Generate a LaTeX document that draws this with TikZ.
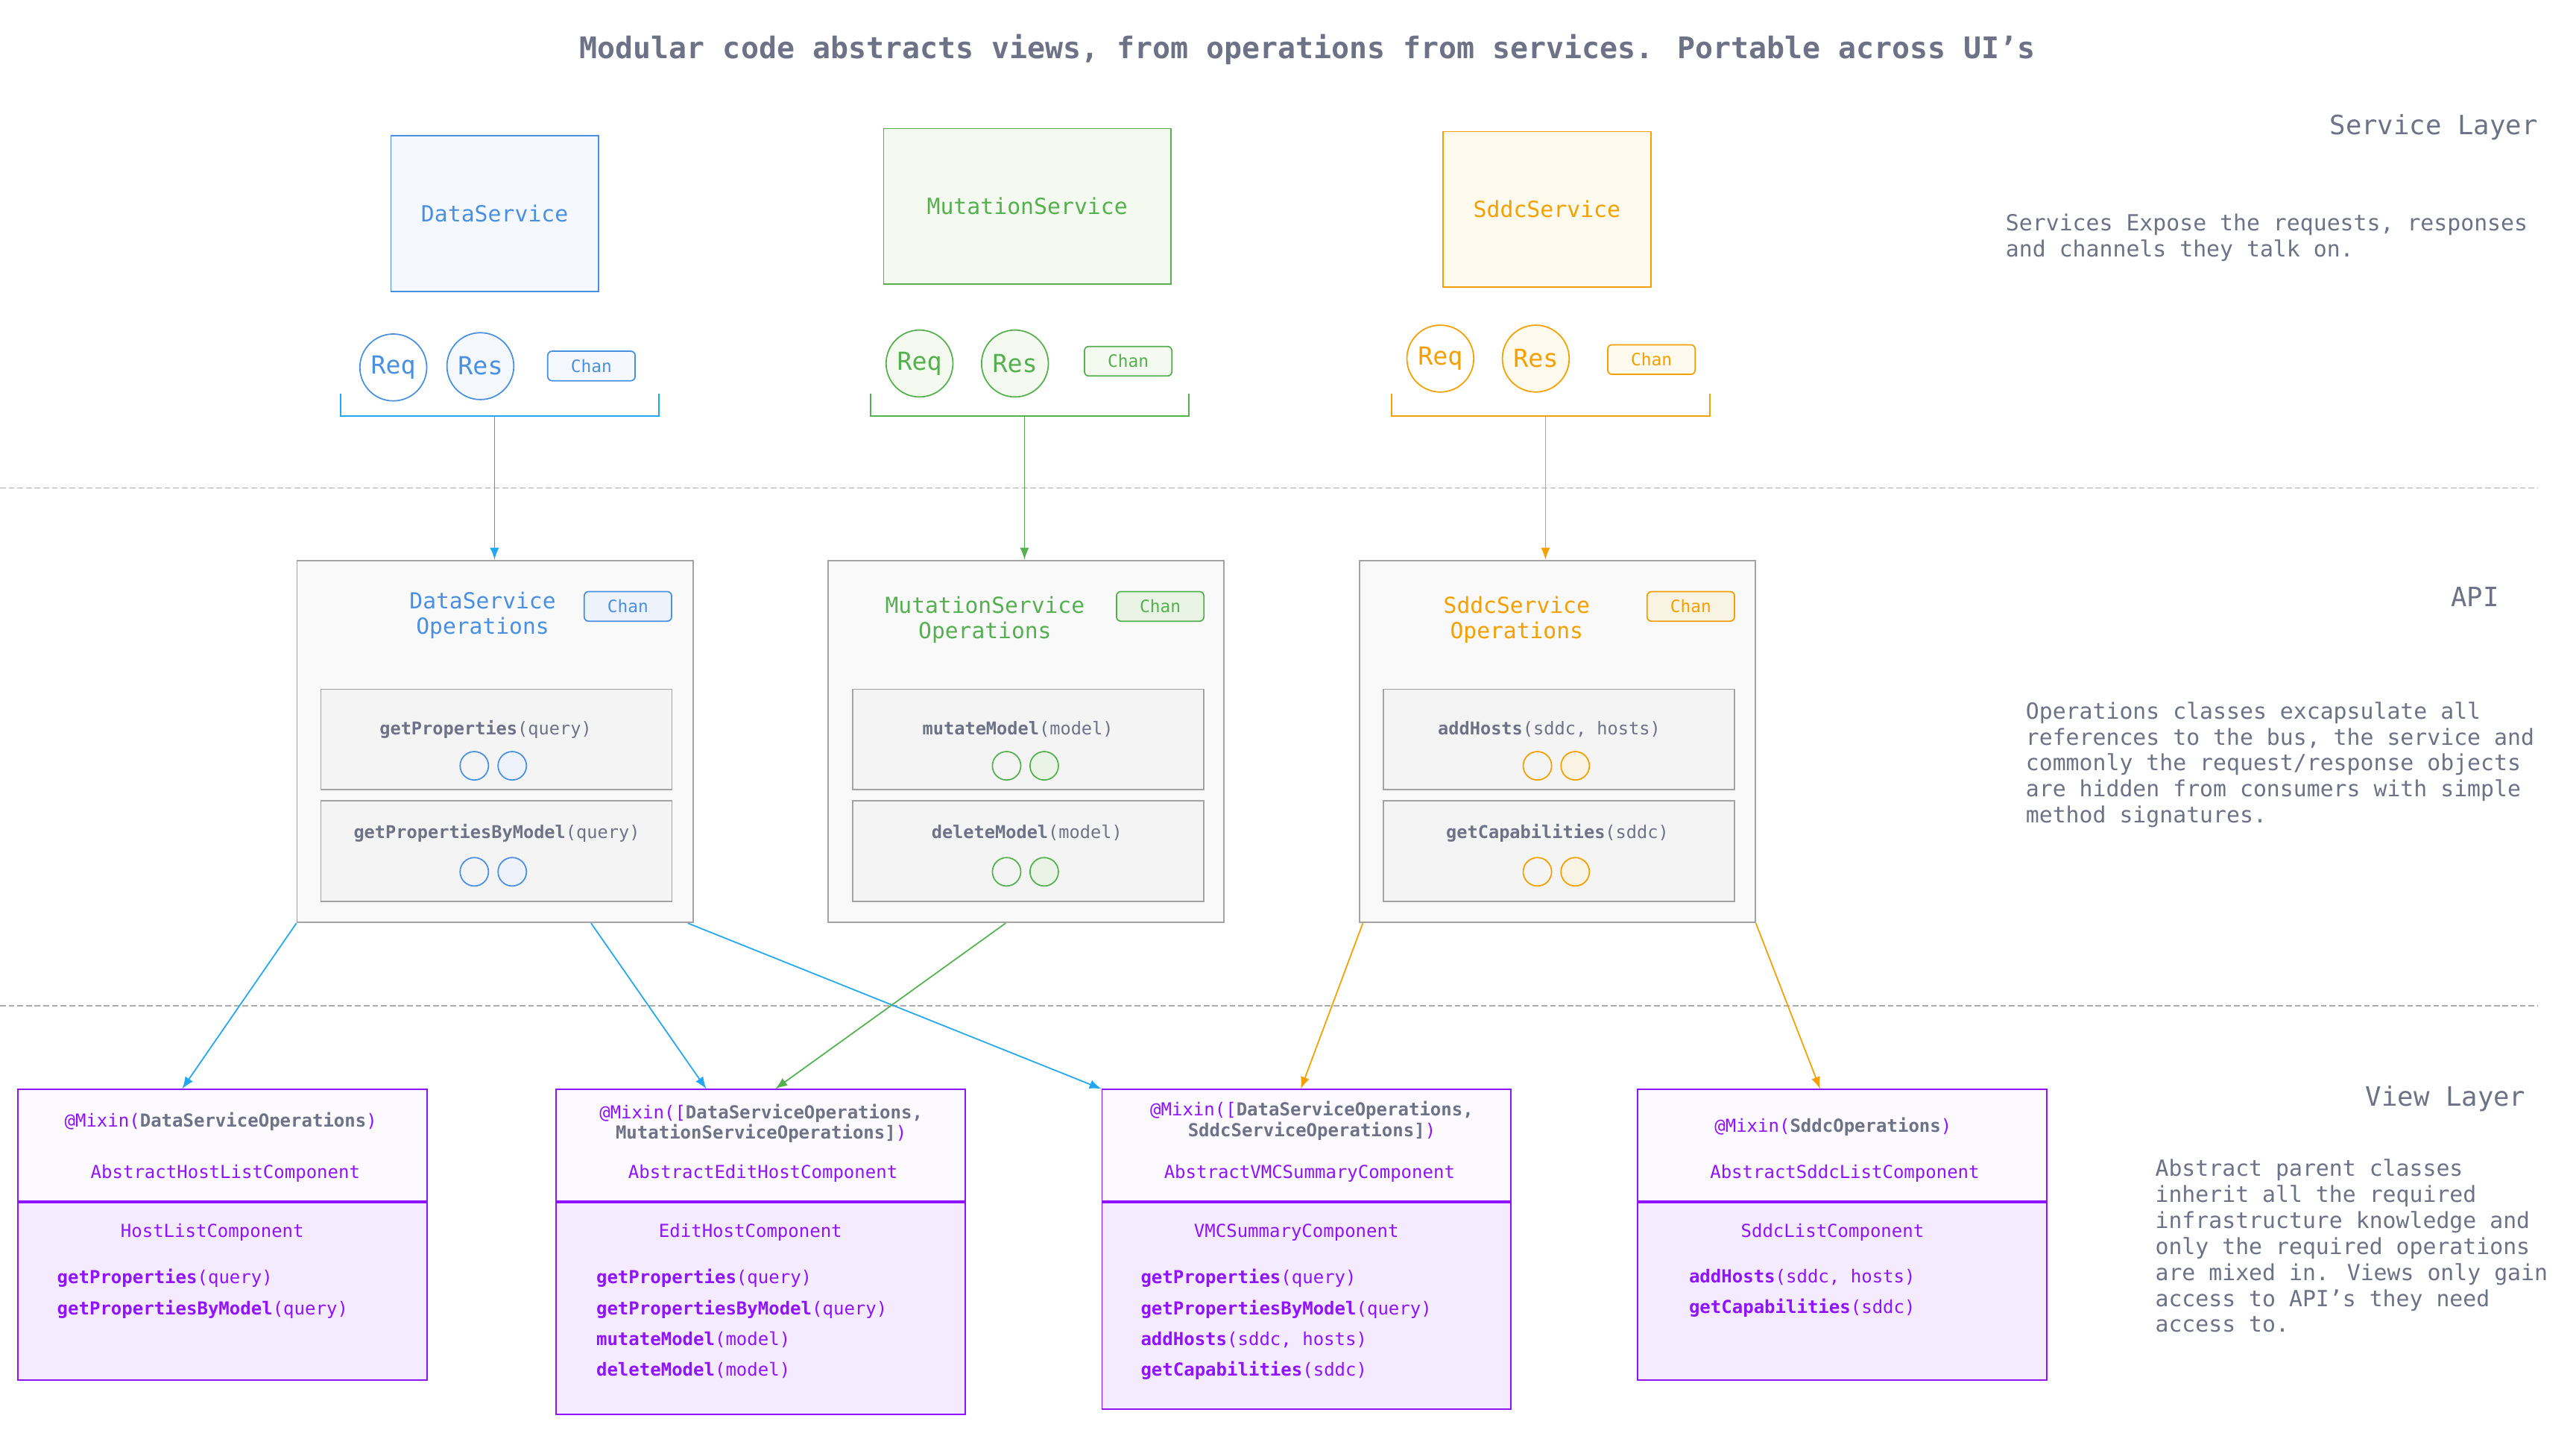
\documentclass[tikz,border=0pt]{standalone}
\usepackage{fontspec}
\setmainfont{DejaVu Sans Mono}
\usepackage{tikz}
\tikzset{> = latex, every picture/.style={line width=0.45pt}}

\definecolor{txtgray}{HTML}{6D7287}
\definecolor{sepgray}{HTML}{ABABAB}
\definecolor{dsblue}{HTML}{4A90E2}
\definecolor{dsfill}{HTML}{F5F9FF}
\definecolor{dstint}{HTML}{EEF3FB}
\definecolor{arrblue}{HTML}{22A8F0}
\definecolor{msgreen}{HTML}{55B04F}
\definecolor{msfill}{HTML}{F4FAEF}
\definecolor{mstint}{HTML}{EAF4E6}
\definecolor{ssorange}{HTML}{F5A000}
\definecolor{ssfill}{HTML}{FFFAEE}
\definecolor{sstint}{HTML}{F8F3E3}
\definecolor{opborder}{HTML}{A3A3A3}
\definecolor{opfill}{HTML}{F9F9F9}
\definecolor{mfill}{HTML}{F4F4F4}
\definecolor{vpurple}{HTML}{9013FE}
\definecolor{vtop}{HTML}{FCF9FF}
\definecolor{vbot}{HTML}{F5EBFE}

\newcommand{\opm}[2]{\textbf{#1}(#2)}
\newcommand{\mixg}[1]{\textcolor{txtgray}{\textbf{#1}}}

\tikzset{
  svcbox/.style={draw, minimum height=1.894cm, inner sep=0pt, font=\fontsize{7.7}{9}\selectfont},
  reqres/.style={circle, draw, minimum size=0.814cm, inner sep=0pt, font=\fontsize{8.6}{10}\selectfont},
  chanbox/.style={draw, rounded corners=1.5pt, minimum width=1.064cm, minimum height=0.36cm, inner sep=0pt, font=\fontsize{5.9}{7}\selectfont},
  opsbox/.style={draw=opborder, fill=opfill, minimum width=4.82cm, minimum height=4.408cm},
  methbox/.style={draw=opborder, fill=mfill, minimum width=4.274cm, minimum height=1.224cm},
  dot/.style={circle, draw, minimum size=0.346cm, inner sep=0pt},
  viewtop/.style={draw=vpurple, fill=vtop, minimum width=4.98cm, minimum height=1.36cm},
  viewbot/.style={draw=vpurple, fill=vbot, minimum width=4.98cm, anchor=north},
  sepline/.style={draw=sepgray, dash pattern=on 2pt off 1pt}
}

\begin{document}
\begin{tikzpicture}[x=0.02cm, y=-0.02cm]
\useasboundingbox (0,0) rectangle (1568,872);

% title, layer names and notes (multi-line nodes sit on their last line)
\node[anchor=base, inner sep=0, text=txtgray, font=\fontsize{10.3}{12}\selectfont\bfseries] (title) at (796,35.5)
    {Modular code abstracts views, from operations from services. Portable across UI’s};
\begin{scope}[every node/.style={inner sep=0, text=txtgray, font=\fontsize{9.2}{11}\selectfont}]
\node[anchor=base east] (svcL) at (1545,81.7) {Service Layer};
\node[anchor=base east] (apiL) at (1521.5,369) {API};
\node[anchor=base east] (viewL) at (1537.7,673) {View Layer};
\end{scope}
\begin{scope}[every node/.style={inner sep=0, text=txtgray, anchor=base west, align=left, font=\fontsize{7.7}{9}\selectfont}]
\node (svcD) at (1220.5,156.4) {Services Expose the requests, responses\\and channels they talk on.};
\node (apiD) at (1232.7,500.7) {Operations classes excapsulate all\\references to the bus, the service and\\commonly the request/response objects\\are hidden from consumers with simple\\method signatures.};
\node (viewD) at (1311.5,810.7) {Abstract parent classes\\inherit all the required\\infrastructure knowledge and\\only the required operations\\are mixed in. Views only gain\\access to API’s they need\\access to.};
\end{scope}

% layer separators
\path[sepline] (0,297) -- (1545,297);
\path[sepline] (0,612) -- (1545,612);

% services
\node[svcbox, draw=dsblue, fill=dsfill, text=dsblue, minimum width=2.528cm] (DS) at (301.1,130) {DataService};
\node[svcbox, draw=msgreen, fill=msfill, text=msgreen, minimum width=3.5cm] (MS) at (625.3,125.6) {MutationService};
\node[svcbox, draw=ssorange, fill=ssfill, text=ssorange, minimum width=2.534cm] (SS) at (941.6,127.4) {SddcService};

\begin{scope}[every node/.style={draw=dsblue, text=dsblue}]
\node[reqres, fill=white] (DSreq) at (239.4,223.6) {Req};
\node[reqres, fill=dsfill] (DSres) at (292.4,222.8) {Res};
\node[chanbox, fill=dsfill] (DSchan) at (360,222.7) {Chan};
\end{scope}
\begin{scope}[every node/.style={draw=msgreen, text=msgreen}]
\node[reqres, fill=msfill] (MSreq) at (559.7,221.2) {Req};
\node[reqres, fill=msfill] (MSres) at (617.8,221.2) {Res};
\node[chanbox, fill=msfill] (MSchan) at (686.7,219.8) {Chan};
\end{scope}
\begin{scope}[every node/.style={draw=ssorange, text=ssorange}]
\node[reqres, fill=white] (SSreq) at (876.7,218.2) {Req};
\node[reqres, fill=ssfill] (SSres) at (934.8,218.2) {Res};
\node[chanbox, fill=ssfill] (SSchan) at (1005.2,218.8) {Chan};
\end{scope}

% brackets under the channels
\coordinate (DSbr) at (301,253);
\coordinate (MSbr) at (623.6,253);
\coordinate (SSbr) at (940.7,253);
\draw[arrblue] (207.5,239.4) |- (DSbr) -| (401,239.4);
\draw[msgreen] (530,239.4) |- (MSbr) -| (723.7,239.4);
\draw[ssorange] (847,239.4) |- (SSbr) -| (1040.7,239.4);

% operations
\node[opsbox] (DSO) at (301.3,451.2) {};
\node[opsbox] (MSO) at (624.6,451.2) {};
\node[opsbox] (SSO) at (947.9,451.2) {};

\begin{scope}[every node/.style={inner sep=0, anchor=base, align=center, font=\fontsize{7.65}{8.8}\selectfont}]
\node[text=dsblue] (DSOt) at (293.8,386) {DataService\\Operations};
\node[text=msgreen] (MSOt) at (599.5,388.8) {MutationService\\Operations};
\node[text=ssorange] (SSOt) at (923.2,388.8) {SddcService\\Operations};
\end{scope}
\node[chanbox, draw=dsblue, fill=dstint, text=dsblue] (DSOchan) at (382.2,369) {Chan};
\node[chanbox, draw=msgreen, fill=mstint, text=msgreen] (MSOchan) at (706.2,369) {Chan};
\node[chanbox, draw=ssorange, fill=sstint, text=ssorange] (SSOchan) at (1029.2,369) {Chan};

\node[methbox] (DSm1) at (302.2,450) {};
\node[methbox] (DSm2) at (302.2,518) {};
\node[methbox] (MSm1) at (625.9,450) {};
\node[methbox] (MSm2) at (625.9,518) {};
\node[methbox] (SSm1) at (949,450) {};
\node[methbox] (SSm2) at (949,518) {};

\begin{scope}[every node/.style={inner sep=0, anchor=base, text=txtgray, font=\fontsize{6.1}{7}\selectfont}]
\node (DSm1t) at (295.6,446.9) {\opm{getProperties}{query}};
\node (DSm2t) at (302.4,510.4) {\opm{getPropertiesByModel}{query}};
\node (MSm1t) at (619.6,446.9) {\opm{mutateModel}{model}};
\node (MSm2t) at (625.1,510.4) {\opm{deleteModel}{model}};
\node (SSm1t) at (943,446.9) {\opm{addHosts}{sddc, hosts}};
\node (SSm2t) at (948,510.4) {\opm{getCapabilities}{sddc}};
\end{scope}

\begin{scope}[every node/.style={dot}]
\node[draw=dsblue] (DSd1) at (288.7,466) {};
\node[draw=dsblue, fill=dstint] (DSd2) at (311.8,466) {};
\node[draw=dsblue] (DSd3) at (288.7,530.5) {};
\node[draw=dsblue, fill=dstint] (DSd4) at (311.8,530.5) {};
\node[draw=msgreen] (MSd1) at (612.7,466) {};
\node[draw=msgreen, fill=mstint] (MSd2) at (635.6,466) {};
\node[draw=msgreen] (MSd3) at (612.7,530.5) {};
\node[draw=msgreen, fill=mstint] (MSd4) at (635.6,530.5) {};
\node[draw=ssorange] (SSd1) at (935.8,466) {};
\node[draw=ssorange, fill=sstint] (SSd2) at (958.8,466) {};
\node[draw=ssorange] (SSd3) at (935.8,530.5) {};
\node[draw=ssorange, fill=sstint] (SSd4) at (958.8,530.5) {};
\end{scope}

% views
\node[viewtop] (HLA) at (135.4,697) {};
\node[viewbot, minimum height=2.16cm] (HLB) at (HLA.south) {};
\node[viewtop] (EHA) at (462.9,697) {};
\node[viewbot, minimum height=2.58cm] (EHB) at (EHA.south) {};
\node[viewtop] (VMA) at (795.3,697) {};
\node[viewbot, minimum height=2.514cm] (VMB) at (VMA.south) {};
\node[viewtop] (SLA) at (1121.4,697) {};
\node[viewbot, minimum height=2.16cm] (SLB) at (SLA.south) {};

\begin{scope}[every node/.style={inner sep=0, anchor=base, align=center, text=vpurple, font=\fontsize{6.2}{7.1}\selectfont}]
\node (HLmix) at (134.4,685.9) {@Mixin(\mixg{DataServiceOperations})};
\node (EHmix) at (463.3,693.1) {@Mixin([\mixg{DataServiceOperations,}\\\mixg{MutationServiceOperations]})};
\node (VMmix) at (798.5,691.5) {@Mixin([\mixg{DataServiceOperations,}\\\mixg{SddcServiceOperations]})};
\node (SLmix) at (1115.8,688.9) {@Mixin(\mixg{SddcOperations})};
\node (HLabs) at (137.2,716.9) {AbstractHostListComponent};
\node (EHabs) at (464.4,716.9) {AbstractEditHostComponent};
\node (VMabs) at (797.1,716.9) {AbstractVMCSummaryComponent};
\node (SLabs) at (1122.9,716.9) {AbstractSddcListComponent};
\node (HLcmp) at (129.2,752.7) {HostListComponent};
\node (EHcmp) at (456.8,752.7) {EditHostComponent};
\node (VMcmp) at (789.1,752.7) {VMCSummaryComponent};
\node (SLcmp) at (1115.4,752.7) {SddcListComponent};
\end{scope}

\begin{scope}[every node/.style={inner sep=0, anchor=base west, align=left, text=vpurple, font=\fontsize{6.2}{10.7}\selectfont}]
\node (HLops) at (34.4,799.9) {\opm{getProperties}{query}\\\opm{getPropertiesByModel}{query}};
\node (EHops) at (362.6,837.5) {\opm{getProperties}{query}\\\opm{getPropertiesByModel}{query}\\\opm{mutateModel}{model}\\\opm{deleteModel}{model}};
\node (VMops) at (694,837.5) {\opm{getProperties}{query}\\\opm{getPropertiesByModel}{query}\\\opm{addHosts}{sddc, hosts}\\\opm{getCapabilities}{sddc}};
\node (SLops) at (1027.7,799.2) {\opm{addHosts}{sddc, hosts}\\\opm{getCapabilities}{sddc}};
\end{scope}

% services -> operations
\draw[->, arrblue] (DSbr) -- (DSbr |- DSO.north);
\draw[->, msgreen] (MSbr) -- (MSbr |- MSO.north);
\draw[->, ssorange] (SSbr) -- (SSbr |- SSO.north);

% operations -> views
\draw[->, arrblue] (DSO.south west) -- ([xshift=-0.49cm]HLA.north);
\draw[->, arrblue] ([xshift=1.17cm]DSO.south) -- ([xshift=-0.66cm]EHA.north);
\draw[->, arrblue] ([xshift=-0.07cm]DSO.south east) -- (VMA.north west);
\draw[->, msgreen] ([xshift=-0.25cm]MSO.south) -- ([xshift=0.18cm]EHA.north);
\draw[->, ssorange] ([xshift=0.05cm]SSO.south west) -- ([xshift=-0.07cm]VMA.north);
\draw[->, ssorange] (SSO.south east) -- ([xshift=-0.27cm]SLA.north);
\end{tikzpicture}
\end{document}
